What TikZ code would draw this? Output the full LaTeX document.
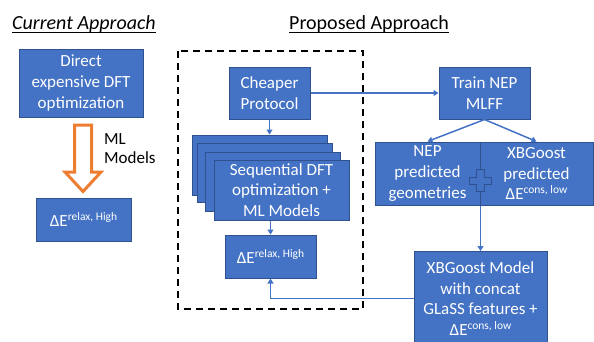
\documentclass[tikz,border=0pt]{standalone}
\usepackage{fontspec}
\setmainfont{Carlito}
\usetikzlibrary{arrows.meta}
\definecolor{boxblue}{HTML}{4472C4}
\definecolor{boxedge}{HTML}{2F528F}
\definecolor{orng}{HTML}{ED7D31}
\newcommand{\supx}[1]{\raisebox{6pt}{\fontsize{11.5}{11.5}\selectfont #1}}
\begin{document}
\begin{tikzpicture}[x=1pt,y=-1pt,
  box/.style={draw=boxedge, line width=1pt, fill=boxblue, text=white, align=center,
    inner sep=0pt, font=\fontsize{17}{20.7}\selectfont},
  conn/.style={draw=boxblue, line width=1.5pt, -{Triangle[width=6pt,length=5pt]}},
  ttl/.style={inner sep=0pt, font=\fontsize{20}{24}\selectfont, anchor=base west},
  plain/.style={inner sep=0pt, align=left, font=\fontsize{17}{19.5}\selectfont}]
\useasboundingbox (0,0) rectangle (594,341);
\clip (0,0) rectangle (594,341);

% titles
\node[ttl] (t1) at (12,29) {\itshape Current Approach};
\node[ttl] (t2) at (289,29) {Proposed Approach};
\draw[line width=0.8pt] ([yshift=-3pt]t1.base west) -- ([yshift=-3pt]t1.base east);
\draw[line width=0.8pt] ([yshift=-3pt]t2.base west) -- ([yshift=-3pt]t2.base east);

% current approach
\node[box, minimum width=124pt, minimum height=68pt] (direct) at (81,83)
  {Direct\\expensive DFT\\optimization};
\node[box, minimum width=95pt, minimum height=43pt] (leftE) at (83.5,219.5)
  {ΔE\supx{relax, High}};
\draw[draw=orng, fill=white, line width=3pt, line join=miter]
  (74.5,125) -- (91.5,125) -- (91.5,172) -- (101,172) -- (83,191.5) -- (65,172) -- (74.5,172) -- cycle;
\node[plain, anchor=north west] (ml) at (104,133) {ML\\Models};

% dashed frame
\draw[black, line width=2pt, dash pattern=on 7pt off 5pt] (178,51) rectangle (363,309);

% proposed approach
\node[box, minimum width=81pt, minimum height=52pt] (cheap) at (269.5,93) {Cheaper\\Protocol};
\node[box, minimum width=91pt, minimum height=52pt] (train) at (484.5,93) {Train NEP\\MLFF};

\node[box, minimum width=135pt, minimum height=60pt] (L1) at (259.5,165) {};
\node[box, minimum width=135pt, minimum height=59pt] (L2) at (264.5,172.5) {};
\node[box, minimum width=135pt, minimum height=59pt] (L3) at (273,181.5) {};
\node[box, minimum width=135pt, minimum height=60pt] (L4) at (281.5,190)
  {Sequential DFT\\optimization +\\ML Models};

\node[box, minimum width=91pt, minimum height=43pt] (midE) at (270.5,256.5)
  {ΔE\supx{relax, High}};

\node[box, minimum width=105pt, minimum height=63pt] (nep) at (427.5,173.5)
  {NEP\\predicted\\geometries};
\node[box, minimum width=113pt, minimum height=63pt] (xbp) at (536.5,173.5)
  {XBGoost\\predicted\\ΔE\supx{cons, low}};

\filldraw[fill=boxblue, draw=boxedge, line width=1pt]
  (476,169.5) -- (484,169.5) -- (484,177) -- (491,177) -- (491,184) -- (484,184) --
  (484,191.5) -- (476,191.5) -- (476,184) -- (469,184) -- (469,177) -- (476,177) -- cycle;

\node[box, minimum width=133pt, minimum height=94pt] (xbm) at (480.5,298.5)
  {XBGoost Model\\with concat\\GLaSS features +\\ΔE\supx{cons, low}};

% connectors
\draw[conn] (cheap.east) -- (train.west);
\draw[conn] (cheap.south) -- (cheap.south |- L1.north);
\draw[conn] (midE.north |- L4.south) -- (midE.north);
\draw[conn] (train.south) -- (nep.north);
\draw[conn] (train.south) -- (xbp.north);
\draw[conn] (nep.south east) -- (nep.south east |- xbm.north);
\draw[conn] (xbm.west) -| (midE.south);
\end{tikzpicture}
\end{document}
